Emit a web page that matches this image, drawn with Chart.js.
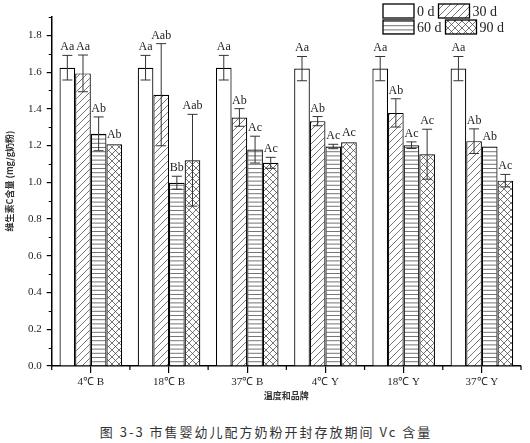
<!DOCTYPE html>
<html><head><meta charset="utf-8">
<script src="https://cdn.jsdelivr.net/npm/chart.js@4.4.1/dist/chart.umd.min.js"></script>
<style>
html,body{margin:0;padding:0;background:#fff;}
#wrap{position:relative;width:530px;height:443px;overflow:hidden;}
#c{position:absolute;left:0;top:0;}
#cap{position:absolute;left:0;top:424px;width:532px;text-align:center;font-family:"Noto Sans CJK SC";font-size:13px;line-height:16px;letter-spacing:2px;color:#333;}
</style></head><body>
<div id="wrap"><canvas id="c" width="530" height="410"></canvas><div id="cap">图 3-3 市售婴幼儿配方奶粉开封存放期间 Vc 含量</div></div>
<script>
const categories = ['4℃ B','18℃ B','37℃ B','4℃ Y','18℃ Y','37℃ Y'];
const seriesNames = ['0 d','30 d','60 d','90 d'];
const d0  = [1.624,1.624,1.624,1.619,1.619,1.619];
const e0  = [0.067,0.067,0.067,0.066,0.066,0.066];
const d30 = [1.593,1.477,1.353,1.333,1.378,1.224];
const e30 = [0.100,0.278,0.048,0.025,0.077,0.067];
const d60 = [1.264,0.998,1.178,1.195,1.202,1.195];
const e60 = [0.092,0.035,0.073,0.012,0.018,0];
const d90 = [1.207,1.120,1.106,1.218,1.153,1.009];
const e90 = [0,0.250,0.030,0,0.136,0.034];
const l0  = ['Aa','Aa','Aa','Aa','Aa','Aa'];
const l30 = ['Aa','Aab','Ab','Ab','Ab','Ab'];
const l60 = ['Ab','Bb','Ac','Ac','Ac','Ab'];
const l90 = ['Ab','Aab','Ac','Ac','Ac','Ac'];
const yTicks = [0,0.2,0.4,0.6,0.8,1.0,1.2,1.4,1.6,1.8];
const yMinor = [0.1,0.3,0.5,0.7,0.9,1.1,1.3,1.5,1.7,1.9];
const yTitle = '维生素C含量 (mg/g奶粉)';
const xTitle = '温度和品牌';

const values = [d0,d30,d60,d90];
const errors = [e0,e30,e60,e90];
const letters = [l0,l30,l60,l90];

function makePattern(w,h,draw){
  const c=document.createElement('canvas');c.width=w;c.height=h;
  const x=c.getContext('2d');x.fillStyle='#fff';x.fillRect(0,0,w,h);
  x.strokeStyle='#3a3a3a';x.lineWidth=0.7;draw(x,w,h);
  return x.createPattern(c,'repeat');
}
const pWhite='#ffffff';
const pDiag=makePattern(7,7,(x,w,h)=>{x.beginPath();x.moveTo(-1,h+1);x.lineTo(w+1,-1);x.moveTo(-1,1);x.lineTo(1,-1);x.moveTo(w-1,h+1);x.lineTo(w+1,h-1);x.stroke();});
const pHoriz=makePattern(4,21,(x,w,h)=>{x.beginPath();[0.5,4.7,8.9,13.1,17.3].forEach(y=>{x.moveTo(0,y);x.lineTo(w,y);});x.stroke();});
const pCross=makePattern(7,7,(x,w,h)=>{x.beginPath();x.moveTo(-1,h+1);x.lineTo(w+1,-1);x.moveTo(-1,-1);x.lineTo(w+1,h+1);x.moveTo(-1,1);x.lineTo(1,-1);x.moveTo(w-1,h+1);x.lineTo(w+1,h-1);x.moveTo(-1,h-1);x.lineTo(1,h+1);x.moveTo(w-1,-1);x.lineTo(w+1,1);x.stroke();});
const fills=[pWhite,pDiag,pHoriz,pCross];

const serif='"Liberation Serif","Times New Roman",serif';

const extras={
  id:'extras',
  afterDatasetsDraw(chart){
    const ctx=chart.ctx, ys=chart.scales.y;
    ctx.save();
    values.forEach((vals,i)=>{
      const meta=chart.getDatasetMeta(i);
      meta.data.forEach((bar,j)=>{
        const v=vals[j], e=errors[i][j];
        const x=bar.x;
        const yT=ys.getPixelForValue(v+e), yB=ys.getPixelForValue(v-e);
        if(e>0){
          ctx.strokeStyle='#333';ctx.lineWidth=1;
          ctx.beginPath();
          ctx.moveTo(x,yT);ctx.lineTo(x,yB);
          ctx.moveTo(x-5,yT);ctx.lineTo(x+5,yT);
          ctx.moveTo(x-5,yB);ctx.lineTo(x+5,yB);
          ctx.stroke();
        }
        ctx.fillStyle='#222';ctx.font='12px '+serif;ctx.textAlign='center';ctx.textBaseline='alphabetic';
        ctx.fillText(letters[i][j],x,yT-(e>0?5:6));
      });
    });
    ctx.strokeStyle='#000';ctx.lineWidth=1.2;
    ctx.beginPath();
    const left=chart.chartArea.left, bottom=chart.chartArea.bottom;
    yMinor.forEach(v=>{const y=Math.round(ys.getPixelForValue(v))+0.5;ctx.moveTo(left,y);ctx.lineTo(left-3,y);});
    const n=categories.length, cw=(chart.chartArea.right-left)/n;
    for(let k=0;k<=n;k++){const x=left+k*cw;ctx.moveTo(x,bottom);ctx.lineTo(x,bottom+4);}
    ctx.stroke();
    // y title
    ctx.save();
    ctx.translate(10,181);ctx.rotate(-Math.PI/2);
    ctx.font='bold 9px "Noto Sans CJK SC"';ctx.fillStyle='#333';ctx.textAlign='center';ctx.textBaseline='middle';
    ctx.fillText(yTitle,0,0);
    ctx.restore();
    // legend
    ctx.font='14px '+serif;ctx.textAlign='left';ctx.textBaseline='alphabetic';
    const rows=[[0,1],[2,3]];
    rows.forEach((r,ri)=>{
      let x=383; const y=4+ri*16;
      r.forEach(si=>{
        ctx.fillStyle=fills[si];ctx.fillRect(x,y,31,14);
        ctx.strokeStyle='#000';ctx.lineWidth=1.3;ctx.strokeRect(x,y,31,14);
        ctx.fillStyle='#222';ctx.fillText(seriesNames[si],x+34,y+12);
        x+=34+ctx.measureText(seriesNames[si]).width+4;
      });
    });
    ctx.restore();
  }
};

new Chart(document.getElementById('c'),{
  type:'bar',
  data:{labels:categories,datasets:values.map((v,i)=>({label:seriesNames[i],data:v,backgroundColor:fills[i],borderColor:'#000',borderWidth:1.2,categoryPercentage:0.8,barPercentage:1.0}))},
  options:{
    responsive:false,animation:false,
    layout:{padding:{left:0,right:9,top:17,bottom:0}},
    plugins:{legend:{display:false},tooltip:{enabled:false}},
    scales:{
      x:{
        offset:true,
        grid:{display:true,offset:false,drawOnChartArea:false,drawTicks:true,tickLength:7,color:'#000',lineWidth:1.2},
        border:{display:true,color:'#000',width:1.5},
        ticks:{font:{family:serif,size:11},color:'#222',padding:3,maxRotation:0},
        title:{display:true,text:xTitle,font:{family:'"Noto Sans CJK SC"',size:9,weight:'bold'},color:'#333',padding:{top:0,bottom:9.5}},
        afterFit(s){s.height=44;}
      },
      y:{
        min:0,max:1.9,
        afterBuildTicks(s){s.ticks=yTicks.map(v=>({value:v}));},
        grid:{display:true,drawOnChartArea:false,drawTicks:true,tickLength:5,color:'#000',lineWidth:1.2},
        border:{display:true,color:'#000',width:1.5},
        ticks:{font:{family:serif,size:11},color:'#222',padding:5,callback:v=>Number(v).toFixed(1)},
        title:{display:false},
        afterFit(s){s.width=51.7;}
      }
    }
  },
  plugins:[extras]
});
</script>
</body></html>
